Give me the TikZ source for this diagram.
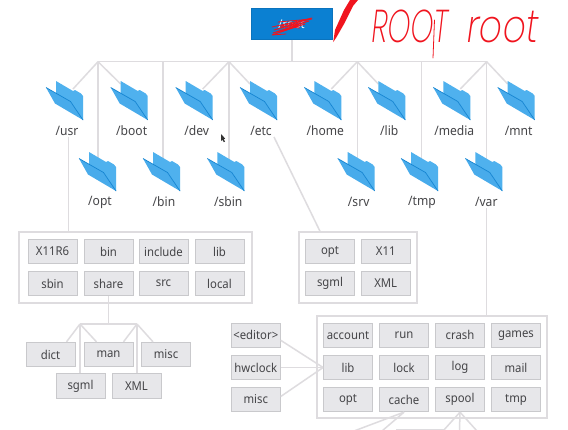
\documentclass[tikz,border=0pt]{standalone}
\usepackage{fontspec}
\setmainfont[FakeStretch=0.93]{Noto Sans}
\newfontfamily\handf[FakeSlant=0.18]{Poppins ExtraLight}
\usetikzlibrary{calc}
\definecolor{linkc}{HTML}{DEDCDF}
\definecolor{cellf}{HTML}{E7E7EA}
\definecolor{celld}{HTML}{C9C9CC}
\definecolor{txtc}{HTML}{454548}
\definecolor{rootc}{HTML}{0B80D2}
\definecolor{foldb}{HTML}{4FB1EE}
\definecolor{foldf}{HTML}{48ABEB}
\definecolor{folde}{HTML}{1585D2}
\definecolor{inkc}{HTML}{F0141E}
\tikzset{
  link/.style={draw=linkc,line width=1.5pt},
  cell/.style={draw=celld,fill=cellf,line width=.8pt,minimum width=49pt,minimum height=24.5pt,inner sep=0pt,text=txtc,font=\fontsize{12.2}{14}\selectfont},
  outerbox/.style={draw=linkc,fill=white,line width=1.5pt,inner sep=0pt},
  rootbox/.style={draw=black!10!rootc,fill=rootc,line width=.6pt,minimum width=81pt,minimum height=31pt,inner sep=0pt,text=white,font=\fontsize{12}{14}\selectfont},
  flabel/.style={inner sep=1pt,text=txtc,font=\fontsize{13}{15}\selectfont},
  ink/.style={draw=inkc,line width=.8pt,line cap=round,line join=round},
  handw/.style={inner sep=0pt,text=inkc,font=\handf\fontsize{46}{46}\selectfont},
}
\newcommand{\folderat}[5]{%
  \coordinate (#1) at (#2,#3);
  \begin{scope}[shift={(#2,#3)}]
    \fill[foldb] (-27,-39) -- (-10,-29) -- (-8,-30) -- (-2,-26.5) -- (0,-24) -- (0,0) -- (-12.5,-18.5) -- (-27,-26.5) -- cycle;
    \fill[foldf] (-37,-32.5) -- (-12.5,-18.5) -- (0,0) -- (-28,-16.5) -- cycle;
    \draw[folde,line width=.7pt] (-37,-32.5) -- (-12.5,-18.5) -- (0,0);
  \end{scope}
  \node[flabel] (#4) at ($(#1)+(-16,11)$) {#5};
}
\begin{document}
\begin{tikzpicture}[x=1pt,y=-1pt]
\useasboundingbox (0,0) rectangle (568,429);
\clip (0,0) rectangle (568,429);
\fill[white] (0,0) rectangle (568,429);

% root
\node[rootbox] (root) at (291.5,24) {/root};

% bus
\coordinate (top) at (292,61.7);
\coordinate (j1) at (98,61.7);
\coordinate (j2) at (163,61.7);
\coordinate (j3) at (229,61.7);
\coordinate (j4) at (357.3,61.7);
\coordinate (j5) at (421.3,61.7);
\coordinate (j6) at (486.7,61.7);
\draw[link] (root.south -| top) -- (top);
\draw[link] (j1) -- (j6);

% folder anchors are drawn over the links
\coordinate (usrc) at (83,120);
\coordinate (bootc) at (147.7,120);
\coordinate (devc) at (212.7,120);
\coordinate (etcc) at (277,120);
\coordinate (homec) at (341.3,120);
\coordinate (libc) at (405.3,120);
\coordinate (mediac) at (470.3,120);
\coordinate (mntc) at (534.7,120);
\draw[link] (j1) -- ($(usrc)+(-10,-31)$);
\draw[link] (j1) -- ($(bootc)+(-27,-36)$);
\draw[link] (j3) -- ($(devc)+(-10,-31)$);
\draw[link] (j3) -- ($(etcc)+(-27,-36)$);
\draw[link] (j4) -- ($(homec)+(-10,-31)$);
\draw[link] (j4) -- ($(libc)+(-27,-36)$);
\draw[link] (j6) -- ($(mediac)+(-10,-31)$);
\draw[link] (j6) -- ($(mntc)+(-27,-36)$);
\draw[link] (j1) -- (j1 |- 0,160);
\draw[link] (j2) -- (j2 |- 0,160);
\draw[link] (j3) -- (j3 |- 0,160);
\draw[link] (j4) -- (j4 |- 0,160);
\draw[link] (j5) -- (j5 |- 0,160);
\draw[link] (j6) -- (j6 |- 0,160);

\folderat{usrf}{83}{120}{usrl}{/usr}
\folderat{bootf}{147.7}{120}{bootl}{/boot}
\folderat{devf}{212.7}{120}{devl}{/dev}
\folderat{etcf}{277}{120}{etcl}{/etc}
\folderat{homef}{341.3}{120}{homel}{/home}
\folderat{libf}{405.3}{120}{libl}{/lib}
\folderat{mediaf}{470.3}{120}{medial}{/media}
\folderat{mntf}{534.7}{120}{mntl}{/mnt}
\folderat{optf}{116}{191}{optl}{/opt}
\folderat{binf}{180}{191}{binl}{/bin}
\folderat{sbinf}{244.3}{191}{sbinl}{/sbin}
\folderat{srvf}{374.7}{191}{srvl}{/srv}
\folderat{tmpf}{438}{191}{tmpl}{/tmp}
\folderat{varf}{502.3}{191}{varl}{/var}

% outer boxes
\node[outerbox,minimum width=233pt,minimum height=71pt] (usrbox) at (135.5,267.5) {};
\node[outerbox,minimum width=118pt,minimum height=71pt] (etcbox) at (358,267.5) {};
\node[outerbox,minimum width=230pt,minimum height=102pt] (varbox) at (432,367) {};

% /usr cells
\node[cell] (ux) at (52.5,251.5) {X11R6};
\node[cell] (ubin) at (108.5,251.5) {bin};
\node[cell] (uinc) at (163.5,251.5) {include};
\node[cell] (ulib) at (219.5,251.5) {lib};
\node[cell] (usbin) at (52.5,283.5) {sbin};
\node[cell] (ushare) at (108.5,283.5) {share};
\node[cell] (usrc2) at (163.5,283.5) {src};
\node[cell] (ulocal) at (219.5,283.5) {local};

% /usr/share cells
\node[cell] (sdict) at (50.5,354.5) {dict};
\node[cell] (sman) at (108.5,354.5) {man};
\node[cell] (smisc) at (166,354.5) {misc};
\node[cell] (ssgml) at (80.5,386) {sgml};
\node[cell] (sxml) at (136.5,386) {XML};

% /etc cells
\node[cell] (eopt) at (330,251.5) {opt};
\node[cell] (ex) at (385.7,251.5) {X11};
\node[cell] (esgml) at (330,283.5) {sgml};
\node[cell] (exml) at (385.7,283.5) {XML};

% /var cells
\node[cell] (vaccount) at (348,335.3) {account};
\node[cell] (vrun) at (404,335.3) {run};
\node[cell] (vcrash) at (460,335.3) {crash};
\node[cell] (vgames) at (516,335.3) {games};
\node[cell] (vlib) at (348,367.5) {lib};
\node[cell] (vlock) at (404,367.5) {lock};
\node[cell] (vlog) at (460,367.5) {log};
\node[cell] (vmail) at (516,367.5) {mail};
\node[cell] (vopt) at (348,399.5) {opt};
\node[cell] (vcache) at (404,399.5) {cache};
\node[cell] (vspool) at (460,399.5) {spool};
\node[cell] (vtmp) at (516,399.5) {tmp};

% /var/lib side cells
\node[cell] (leditor) at (255.8,335.3) {<editor>};
\node[cell] (lhw) at (255.8,367.5) {hwclock};
\node[cell] (lmisc) at (255.8,399.5) {misc};

% connectors to boxes
\draw[link] ([xshift=1.3pt]usrl.south) -- ([xshift=1.3pt]usrl.south |- usrbox.north);
\draw[link] ([xshift=1pt]etcl.south east) -- ($(etcbox.north)+(-38,0)$);
\draw[link] (varl.south) -- (varl.south |- varbox.north);

% share tree
\coordinate (sj1) at (80,324);
\coordinate (sj2) at (137,324);
\draw[link] (ushare.south) -- (ushare.south |- sj1);
\draw[link] (sj1) -- (sj2);
\draw[link] (sj1) -- ($(sdict.north)+(16,0)$);
\draw[link] (sj1) -- ($(sman.north)+(-12,0)$);
\draw[link] (sj1) -- (ssgml.north -| sj1);
\draw[link] (sj2) -- ($(sman.north)+(15,0)$);
\draw[link] (sj2) -- ($(smisc.north)+(-13,0)$);
\draw[link] (sj2) -- (sxml.north -| sj2);

% lib fan
\draw[link] ([yshift=-5pt]leditor.east) -- (vlib.west);
\draw[link] (lhw.east) -- (vlib.west);
\draw[link] ([yshift=3pt]lmisc.east) -- (vlib.west);

% lines leaving the bottom edge
\coordinate (b1) at (354,431);
\coordinate (b2) at (382,431);
\coordinate (b3) at (443,431);
\coordinate (b4) at (459.5,431);
\coordinate (b5) at (477,431);
\draw[link] (vcache.south) -- (b1);
\draw[link] (vcache.south) -- (b2);
\draw[link] (vspool.south) -- (b3);
\draw[link] (vspool.south) -- (b4);
\draw[link] (vspool.south) -- (b5);
\draw[link] (396,430) -- (445,430);

% cursor
\fill[black!80] (221,134) -- (221,141) -- (222.6,139.8) -- (223.8,142.2) -- (225,141.6) -- (223.8,139.2) -- (225.2,138.6) -- cycle;

% ink annotations
\fill[inkc] (333.2,42) -- (335,30) -- (344,10) -- (350,0) -- (358,0) -- (353,6) -- (344,24) -- (336,38) -- cycle;
\draw[ink] (272,27) -- (312,18) -- (274,30) -- (309,21) -- (273,33) -- (305,24) -- (272,35) -- (286,34);
\draw[ink] (278,22) -- (312,19) -- (280,26) -- (300,28);
\node[handw,anchor=center,xscale=.63] (rootcaps) at (408.5,26) {ROOT};
\draw[ink] (434.5,20) -- (433,58);
\node[handw,anchor=center,xscale=.78] (rootlower) at (501,27) {root};
\end{tikzpicture}
\end{document}
